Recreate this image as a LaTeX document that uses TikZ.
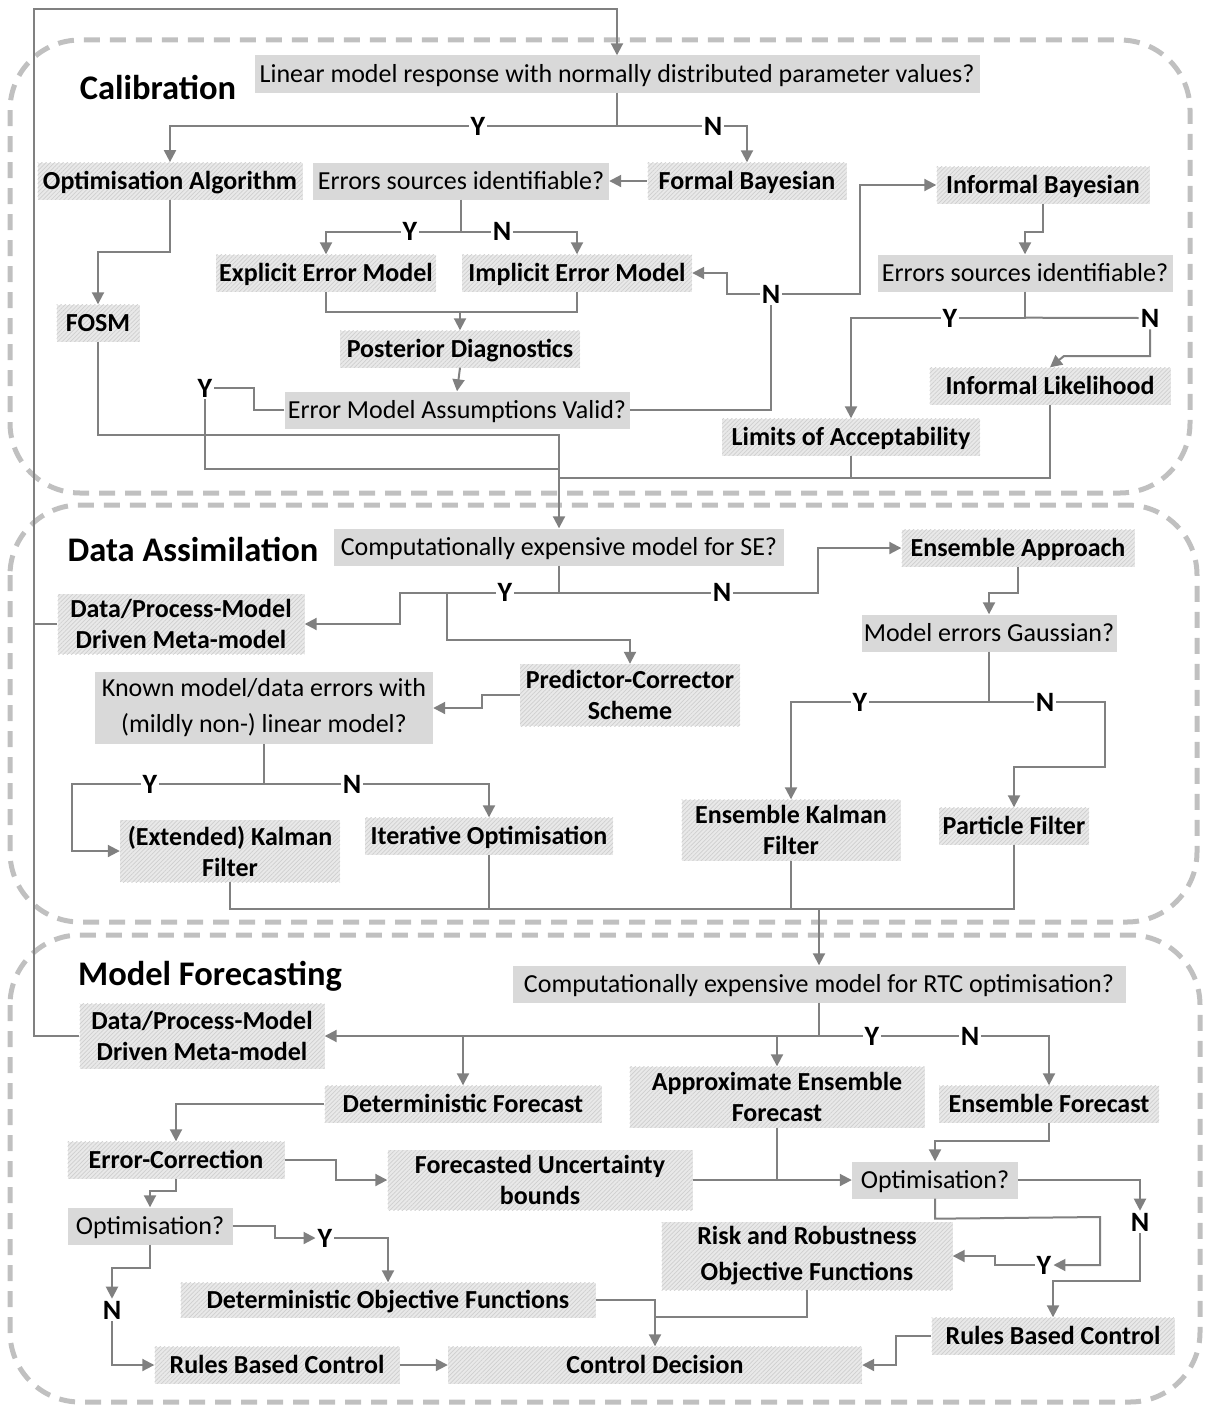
\documentclass[tikz,border=0pt]{standalone}
\usepackage{fontspec}
\setmainfont{Carlito}
\usetikzlibrary{arrows.meta,patterns.meta,calc}
\definecolor{lnc}{HTML}{808080}
\definecolor{decf}{HTML}{D9D9D9}
\definecolor{hatf}{HTML}{E9E9E9}
\definecolor{hatl}{HTML}{CFCFCF}
\definecolor{secc}{HTML}{C0C0C0}
\begin{document}
\begin{tikzpicture}[x=1pt,y=-1pt,
  ln/.style={draw=lnc,line width=2pt},
  arr/.style={ln,-{Triangle[length=12pt,width=12pt]}},
  sec/.style={draw=secc,line width=5pt,dash pattern=on 16pt off 10pt,rounded corners=70pt},
  base/.style={inner sep=2pt,minimum height=37pt,font=\fontsize{26}{31}\selectfont},
  one/.style={text height=20pt,text depth=4pt},
  dec/.style={base,fill=decf},
  hat/.style={base,preaction={fill=hatf},pattern={Lines[angle=45,distance=3pt,line width=0.7pt]},pattern color=hatl,font=\fontsize{26}{31}\selectfont\bfseries,align=center},
  yn/.style={fill=white,inner sep=2pt,font=\fontsize{28}{32}\selectfont\bfseries},
  title/.style={font=\fontsize{34.5}{40}\selectfont\bfseries}]
\useasboundingbox (0,0) rectangle (1205,1405);
% section frames
\draw[sec] (10,40) rectangle (1190,493);
\draw[sec] (10,505) rectangle (1197,922);
\draw[sec] (10,935) rectangle (1200,1402);
% titles
\node[title] (tcal) at (158,87) {Calibration};
\node[title] (tda) at (193,549) {Data Assimilation};
\node[title] (tmf) at (210,976) {Model Forecasting};
% ---------- Calibration nodes
\node[dec,one,minimum width=725pt] (q1) at (617,74) {Linear model response with normally distributed parameter values?};
\node[hat,one,minimum width=265pt] (oa) at (170,181) {Optimisation Algorithm};
\node[dec,one,minimum width=296pt] (esi1) at (461,181) {Errors sources identifiable?};
\node[hat,one,minimum width=199pt] (fb) at (747,181) {Formal Bayesian};
\node[hat,one,minimum width=213pt] (ib) at (1043,185) {Informal Bayesian};
\node[hat,one,minimum width=220pt] (eem) at (326,273) {Explicit Error Model};
\node[hat,one,minimum width=230pt] (iem) at (577,273) {Implicit Error Model};
\node[dec,one,minimum width=295pt] (esi2) at (1025,273) {Errors sources identifiable?};
\node[hat,one,minimum width=83pt] (fosm) at (98,323) {FOSM};
\node[hat,one,minimum width=240pt] (pd) at (460,349) {Posterior Diagnostics};
\node[dec,one,minimum width=345pt] (emav) at (457,410) {Error Model Assumptions Valid?};
\node[hat,one,minimum width=241pt] (ilh) at (1050,386) {Informal Likelihood};
\node[hat,one,minimum width=258pt] (loa) at (851,437) {Limits of Acceptability};
% ---------- Data assimilation nodes
\node[dec,one,minimum width=450pt] (qda) at (559,547) {Computationally expensive model for SE?};
\node[hat,one,minimum width=233pt] (ea) at (1018,548) {Ensemble Approach};
\node[hat,minimum width=247pt,minimum height=60pt] (dpm1) at (181,624) {Data/Process-Model\\Driven Meta-model};
\node[hat,minimum width=220pt,minimum height=62pt] (pc) at (630,695) {Predictor-Corrector\\Scheme};
\node[dec,align=center,minimum width=338pt,minimum height=72pt] (kn) at (264,708) {Known model/data errors with\\[5pt](mildly non-) linear model?};
\node[dec,one,minimum width=255pt] (meg) at (989,633) {Model errors Gaussian?};
\node[hat,minimum width=219pt,minimum height=61pt] (enkf) at (791,830) {Ensemble Kalman\\Filter};
\node[hat,one,minimum width=150pt] (pf) at (1014,826) {Particle Filter};
\node[hat,minimum width=220pt,minimum height=62pt] (ekf) at (230,851) {(Extended) Kalman\\Filter};
\node[hat,one,minimum width=248pt] (io) at (489,836) {Iterative Optimisation};
% ---------- Model forecasting nodes
\node[dec,one,minimum width=613pt] (qmf) at (819,984) {Computationally expensive model for RTC optimisation?};
\node[hat,minimum width=245pt,minimum height=65pt] (dpm2) at (202,1036) {Data/Process-Model\\Driven Meta-model};
\node[hat,one,minimum width=277pt] (df) at (463,1104) {Deterministic Forecast};
\node[hat,minimum width=295pt,minimum height=61pt] (aef) at (777,1097) {Approximate Ensemble\\Forecast};
\node[hat,one,minimum width=220pt] (ef) at (1049,1104) {Ensemble Forecast};
\node[hat,one,minimum width=217pt] (ec) at (176,1160) {Error-Correction};
\node[hat,minimum width=305pt,minimum height=60pt] (fub) at (540,1180) {Forecasted Uncertainty\\bounds};
\node[dec,one,minimum width=166pt] (opr) at (935,1180) {Optimisation?};
\node[dec,one,minimum width=165pt] (opl) at (150,1226) {Optimisation?};
\node[hat,minimum width=291pt,minimum height=68pt] (rro) at (807,1256) {Risk and Robustness\\[5pt]Objective Functions};
\node[hat,one,minimum width=415pt,minimum height=35pt] (dof) at (388,1300) {Deterministic Objective Functions};
\node[hat,one,minimum width=243pt] (rbcr) at (1053,1336) {Rules Based Control};
\node[hat,one,minimum width=245pt] (rbcl) at (277,1365) {Rules Based Control};
\node[hat,one,minimum width=414pt] (cd) at (655,1365) {Control Decision};
% ---------- helper coordinates
\coordinate (loopx) at (34,9);
\coordinate (c1) at (559,435);
\coordinate (c2) at (559,469);
\coordinate (c3) at (559,478);
\coordinate (c4) at (447,592);
\coordinate (c5) at (819,909);
\coordinate (c6) at (819,1036);
\coordinate (c7) at (655,1317);
\coordinate (c8) at (1140,1281);
\coordinate (c9) at (1100,1217);
% ---------- Calibration connectors
\draw[arr] (dpm2.west) -| (loopx) -| (q1.north);
\draw[ln] (dpm1.west) -- (dpm1.west -| loopx);
\draw[arr] (q1.south) -- ++(0,33) -| (oa.north);
\draw[arr] (q1.south) ++(0,33) -| (fb.north);
\node[yn] at (478,126) {Y};
\node[yn] at (713,126) {N};
\draw[arr] (fb.west) -- (esi1.east);
\draw[arr] (oa.south) -- ++(0,52) -| (fosm.north);
\draw[arr] (esi1.south) -- ++(0,32) -| (eem.north);
\draw[arr] (esi1.south) ++(0,32) -| (iem.north);
\node[yn] at (410,231) {Y};
\node[yn] at (502,231) {N};
\draw[ln] (eem.south) -- ++(0,20) -| (iem.south);
\path (eem.south) ++(0,20) coordinate (m1);
\draw[arr] (m1 -| pd.north) -- (pd.north);
\draw[arr] (pd.south) -- (emav.north);
\node[yn] (yc) at (205,388) {Y};
\draw[ln] (emav.west) -- ++(-30,0) |- (yc.east);
\draw[ln] (yc.south) |- (c2);
\draw[arr] (fosm.south) |- (c1) -- (qda.north);
\draw[ln] (ilh.south) |- (c3);
\draw[ln] (loa.south) -- (loa.south |- c3);
\node[yn] (nc) at (771,294) {N};
\draw[ln] (emav.east) -| (nc.south);
\draw[arr] (nc.west) -- ++(-33,0) |- (iem.east);
\draw[arr] (nc.east) -- ++(78,0) |- (ib.west);
\draw[arr] (ib.south) -- ++(0,28) -| (esi2.north);
\node[yn] (n2) at (1150,318) {N};
\draw[arr] (esi2.south) -- ++(0,26) -| (loa.north);
\draw[ln] (esi2.south) ++(0,26) -- (n2.west);
\node[yn] at (950,318) {Y};
\draw[arr] (n2.south) |- (1064,356) -- (ilh.north);
% ---------- Data assimilation connectors
\draw[arr] (qda.south) -- ++(0,27) -- ++(-159,0) |- (dpm1.east);
\draw[arr] (c4) -- ++(0,48) -| (pc.north);
\draw[arr] (qda.south) ++(0,27) -- ++(259,0) |- (ea.west);
\node[yn] at (505,592) {Y};
\node[yn] at (722,592) {N};
\draw[arr] (pc.west) -- ++(-38,0) |- (kn.east);
\draw[arr] (kn.south) -- ++(0,40) -- ++(-192,0) |- (ekf.west);
\draw[arr] (kn.south) ++(0,40) -| (io.north);
\node[yn] at (150,784) {Y};
\node[yn] at (352,784) {N};
\draw[arr] (ea.south) -- ++(0,26) -| (meg.north);
\draw[arr] (meg.south) -- ++(0,50) -| (enkf.north);
\draw[arr] (meg.south) ++(0,50) -- ++(116,0) -- ++(0,65) -| (pf.north);
\node[yn] at (860,702) {Y};
\node[yn] at (1045,702) {N};
\draw[ln] (ekf.south) -- ++(0,27) -| (pf.south);
\draw[ln] (io.south) -- (io.south |- c5);
\draw[ln] (enkf.south) -- (enkf.south |- c5);
\draw[arr] (c5) -- (qmf.north);
% ---------- Model forecasting connectors
\draw[arr] (qmf.south) -- (c6) -- (dpm2.east);
\draw[arr] (c6) -| (ef.north);
\draw[arr] (df.north |- c6) -- (df.north);
\draw[arr] (aef.north |- c6) -- (aef.north);
\node[yn] at (872,1036) {Y};
\node[yn] at (970,1036) {N};
\draw[arr] (df.west) -| (ec.north);
\draw[arr] (ec.east) -- ++(51,0) |- (fub.west);
\draw[arr] (ec.south) -- ++(0,12) -| (opl.north);
\node[yn] (yl) at (325,1238) {Y};
\node[yn] (nl) at (112,1310) {N};
\draw[arr] (opl.east) -- ++(42,0) |- (yl.west);
\draw[arr] (yl.east) -| (dof.north);
\draw[arr] (opl.south) -- ++(0,23) -| (nl.north);
\draw[arr] (nl.south) |- (rbcl.west);
\draw[arr] (rbcl.east) -- (cd.west);
\draw[arr] (dof.east) -| (cd.north);
\draw[ln] (rro.south) |- (c7);
\draw[arr] (fub.east) -- (opr.west);
\draw[ln] (aef.south) -- (aef.south |- fub.east);
\draw[arr] (ef.south) -- ++(0,18) -| (opr.north);
\node[yn] (nr) at (1140,1222) {N};
\node[yn] (yr) at (1044,1265) {Y};
\draw[arr] (opr.east) -| (nr.north);
\draw[arr] (nr.south) -- (c8) -| (rbcr.north);
\draw[arr] (opr.south) -- ++(0,20) -- (c9) |- (yr.east);
\draw[arr] (yr.west) -- ++(-40,0) |- (rro.east);
\draw[arr] (rbcr.west) -- ++(-35,0) |- (cd.east);
\end{tikzpicture}
\end{document}
